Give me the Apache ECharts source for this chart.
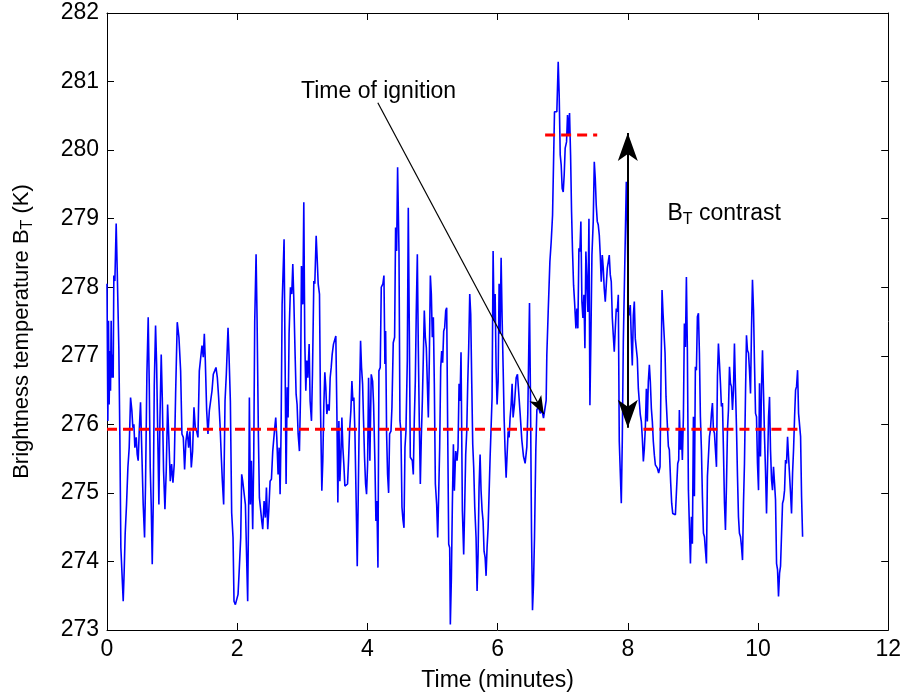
<!DOCTYPE html>
<html>
<head>
<meta charset="utf-8">
<script src="https://cdn.jsdelivr.net/npm/echarts@6/dist/echarts.min.js"></script>
<style>
  html, body { margin: 0; padding: 0; background: #fff; }
  #chart { width: 904px; height: 699px; }
</style>
</head>
<body>
<div id="chart"></div>
<script>
// Sample times (minutes) and brightness temperature (K)
const minutes = [
  0.000,0.013,0.023,0.033,0.044,0.054,0.064,0.074,0.085,0.095,0.105,0.121,0.141,0.156,0.172,0.182,0.197,0.213,0.228,0.249,
  0.264,0.279,0.300,0.321,0.341,0.362,0.382,0.397,0.413,0.428,0.449,0.464,0.479,0.495,0.515,0.536,0.556,0.577,0.592,0.613,
  0.633,0.649,0.664,0.679,0.695,0.710,0.726,0.746,0.762,0.777,0.797,0.813,0.833,0.849,0.869,0.890,0.910,0.931,0.951,0.972,
  0.992,1.013,1.033,1.054,1.079,1.105,1.131,1.151,1.172,1.192,1.213,1.233,1.254,1.274,1.295,1.315,1.336,1.356,1.377,1.397,
  1.418,1.438,1.459,1.479,1.495,1.510,1.531,1.551,1.572,1.592,1.613,1.633,1.654,1.674,1.695,1.715,1.736,1.756,1.772,1.792,
  1.813,1.833,1.859,1.874,1.895,1.915,1.936,1.951,1.972,1.992,2.013,2.033,2.054,2.069,2.085,
  2.110,2.126,2.146,2.161,2.177,2.187,2.203,2.218,2.238,2.254,2.269,2.290,2.305,2.326,2.341,2.356,2.377,2.392,2.413,2.433,
  2.449,2.469,2.485,2.505,2.526,2.546,2.572,2.592,2.608,2.628,2.644,2.659,2.674,2.690,2.705,2.720,2.736,2.751,2.767,2.782,
  2.797,2.818,2.838,2.854,2.869,2.890,2.905,2.920,2.936,2.956,2.972,2.987,3.008,3.023,3.038,3.054,3.069,3.085,3.105,3.120,
  3.141,3.156,3.177,3.192,3.213,3.228,3.244,3.264,3.279,3.300,3.315,3.331,3.346,3.361,3.377,3.397,3.413,3.428,3.444,3.459,
  3.479,3.500,3.515,3.531,3.546,3.562,3.577,3.592,3.608,3.623,3.638,3.654,3.674,3.695,3.710,3.726,3.746,3.762,3.777,3.792,
  3.808,3.828,3.844,3.859,3.879,3.895,3.910,3.926,3.941,3.956,3.972,3.987,4.003,4.018,4.038,4.059,4.080,4.095,4.115,4.131,
  4.146,4.162,4.177,4.197,4.213,4.228,
  4.238,4.254,4.269,4.280,4.295,4.310,4.326,4.341,4.362,4.377,4.397,4.418,4.433,4.449,4.464,4.485,4.500,4.515,4.531,4.546,
  4.562,4.577,4.592,4.613,4.628,4.644,4.659,4.674,4.690,4.705,4.720,4.736,4.751,4.767,4.782,4.797,4.813,4.828,4.844,4.859,
  4.874,4.890,4.905,4.921,4.936,4.951,4.967,4.982,4.997,5.013,5.028,5.044,5.064,5.080,5.095,5.110,5.126,5.141,5.156,5.172,
  5.187,5.203,5.218,5.233,5.249,5.264,5.274,5.290,5.305,5.321,5.336,5.356,5.377,5.392,5.408,5.423,5.438,5.459,5.479,5.495,
  5.510,5.526,5.541,5.556,5.572,5.587,5.603,5.618,5.633,5.649,5.669,5.685,5.700,5.715,5.731,5.746,5.762,5.777,5.792,5.808,
  5.823,5.838,5.854,5.869,5.885,5.900,5.915,5.931,5.946,5.962,5.977,5.992,6.008,6.023,6.038,6.054,6.069,6.085,6.100,6.115,
  6.131,6.146,6.162,6.177,6.192,6.208,6.223,6.238,6.259,6.285,6.305,
  6.346,6.372,6.398,6.423,6.449,6.464,6.480,6.490,6.505,6.521,6.536,6.551,6.567,6.587,6.603,6.628,6.654,6.680,6.705,6.731,6.746,
  6.756,6.777,6.803,6.823,6.844,6.859,6.874,6.895,6.910,6.931,6.946,6.962,6.977,6.992,7.008,7.023,7.038,7.059,7.074,7.090,
  7.105,7.121,7.136,7.151,7.167,7.182,7.203,7.218,7.233,7.249,7.264,7.279,7.295,7.310,7.326,7.341,7.356,7.372,7.387,7.403,
  7.418,7.433,7.449,7.469,7.485,7.500,7.515,7.531,7.546,7.562,7.577,7.592,7.608,7.623,7.638,7.654,7.669,7.685,7.700,7.715,
  7.731,7.746,7.762,7.777,7.792,7.808,7.823,7.838,7.854,7.869,7.885,7.900,7.915,7.931,7.946,7.962,7.977,7.992,8.008,8.023,
  8.038,8.054,8.069,8.085,8.100,8.115,8.131,8.146,8.162,8.177,8.192,8.208,8.223,8.239,8.254,8.269,8.285,8.300,8.315,8.331,
  8.346,8.362,8.377,8.392,8.408,8.423,8.439,8.454,
  8.474,8.495,8.510,8.526,8.541,8.556,8.572,8.587,8.608,8.623,8.638,8.659,8.674,8.690,8.710,8.731,8.751,8.767,8.782,8.792,
  8.808,8.823,8.838,8.854,8.869,8.885,8.900,8.915,8.931,8.946,8.962,8.977,8.992,9.008,9.023,9.038,9.054,9.069,9.085,9.100,
  9.115,9.131,9.146,9.162,9.177,9.192,9.208,9.223,9.238,9.254,9.269,9.285,9.300,9.315,9.331,9.346,9.362,9.377,9.392,9.408,
  9.423,9.438,9.454,9.469,9.485,9.500,9.515,9.531,9.546,9.562,9.577,9.592,9.608,9.623,9.638,9.654,9.669,9.685,9.700,9.715,
  9.731,9.746,9.762,9.777,9.792,9.808,9.823,9.838,9.854,9.869,9.885,9.900,9.915,9.931,9.946,9.962,9.977,9.992,10.008,10.023,
  10.038,10.054,10.069,10.085,10.100,10.115,10.131,10.146,10.162,10.177,10.192,10.208,10.223,10.238,10.254,10.269,10.285,10.300,10.315,10.331,
  10.346,10.362,10.377,10.392,10.408,10.423,10.438,10.454,10.469,10.485,10.500,10.515,10.531,10.546,10.562,10.577,10.592,10.608,10.623,10.638,
  10.654,10.669,10.685
];
const kelvin = [
  278.05,276.05,277.51,276.29,277.07,276.49,277.51,276.68,277.02,276.68,278.17,278.09,278.93,278.29,278.29,277.10,275.86,274.20,274.20,273.42,
  273.86,274.40,274.83,275.37,275.66,276.39,276.20,275.95,276.00,275.66,275.81,275.56,275.47,275.90,276.32,275.56,274.83,274.35,275.13,276.73,
  277.56,276.59,275.37,274.83,273.96,274.83,276.56,277.44,276.88,276.00,274.83,276.05,277.02,276.39,275.32,274.76,275.32,276.29,275.76,275.17,
  275.42,275.15,275.42,276.44,277.49,277.27,276.78,275.86,275.81,275.34,275.76,275.90,275.66,275.90,275.37,275.61,276.25,275.95,275.90,275.81,
  276.78,276.78,277.15,276.98,277.32,276.93,276.20,275.86,276.20,276.20,276.49,276.73,276.78,276.83,276.68,276.39,276.00,275.52,275.17,274.83,
  276.34,276.73,277.41,277.02,276.34,274.71,274.35,273.42,273.37,273.35,273.52,273.91,274.35,275.27,275.17,
  275.15,274.83,274.01,273.42,274.93,276.39,274.83,275.47,274.47,275.52,277.49,278.48,277.56,275.81,274.93,274.79,274.59,274.47,274.88,274.64,
  275.08,274.47,274.74,275.17,275.20,275.61,275.90,276.10,275.81,275.27,275.66,274.98,275.90,277.75,277.75,278.70,276.90,275.13,276.54,276.10,
  277.32,278.00,277.90,278.34,277.85,277.00,276.44,276.29,275.86,275.61,276.39,278.31,277.75,279.24,277.22,276.49,276.93,276.68,277.17,276.34,
  276.05,276.73,278.09,278.05,278.75,278.43,278.05,277.90,276.29,275.03,275.47,276.29,276.76,276.54,276.15,276.29,276.20,276.68,276.83,277.02,
  277.17,277.19,277.29,276.20,274.86,276.05,275.17,275.52,276.10,275.66,275.42,275.10,275.10,275.13,275.47,275.90,276.20,276.63,276.34,276.39,
  275.90,274.83,273.93,274.93,276.39,277.22,276.83,276.59,276.05,275.52,275.13,274.98,275.42,276.68,275.47,276.73,276.63,276.29,275.47,274.59,
  274.88,273.91,276.78,276.83,278.00,278.02,
  278.05,278.17,276.88,277.36,275.86,275.27,275.00,275.86,275.90,276.25,277.19,277.27,278.87,278.53,279.75,278.53,276.05,275.90,274.79,274.61,
  274.49,275.66,275.90,276.93,279.16,277.36,275.52,275.52,275.47,275.27,276.05,276.63,277.66,278.48,277.12,276.05,275.13,275.81,276.34,276.98,
  277.66,277.27,277.12,276.59,276.10,276.93,278.17,277.90,277.27,277.56,276.59,275.13,274.83,274.35,274.98,275.66,276.83,277.07,276.90,277.36,
  277.41,277.66,277.70,275.95,274.25,274.20,273.08,273.76,274.83,275.71,275.03,275.61,275.47,275.66,276.59,276.34,277.05,274.74,274.10,274.83,
  275.56,275.90,276.59,277.12,277.90,277.61,276.59,275.71,275.37,274.79,274.35,273.57,274.10,275.08,275.56,275.03,274.74,274.59,274.15,274.06,
  273.79,274.20,274.49,274.49,275.52,275.95,276.39,278.53,277.51,277.90,276.83,276.29,276.63,278.05,277.32,278.43,277.56,276.83,276.10,275.61,
  275.22,275.56,275.90,275.81,276.10,276.29,276.59,276.10,276.29,276.68,276.73,
  276.16,275.77,275.53,275.43,275.67,276.16,277.18,277.77,276.40,274.41,273.29,273.66,274.36,275.63,276.21,276.26,276.16,276.21,276.09,276.11,276.35,
  277.01,277.64,278.37,278.66,279.05,279.05,280.56,280.54,280.56,281.29,280.80,279.93,279.78,279.44,279.39,279.64,280.03,280.12,280.51,280.22,
  280.54,279.93,279.10,278.52,278.03,277.79,277.40,277.69,277.40,278.57,278.52,278.96,277.79,277.55,277.89,277.11,278.52,278.52,277.64,279.00,
  276.28,277.25,278.47,278.96,279.83,279.59,279.20,278.96,278.91,278.76,278.47,278.08,278.47,278.28,277.98,277.79,278.03,278.28,278.37,278.47,
  278.18,278.08,277.55,277.30,277.06,277.40,277.69,277.64,277.89,275.75,275.75,274.85,275.75,277.20,277.20,278.76,279.54,278.96,277.69,277.59,
  277.74,277.25,276.86,277.59,277.79,277.25,277.25,276.96,276.52,276.33,276.14,276.04,275.80,275.46,275.65,275.94,276.52,276.04,276.62,276.87,
  276.62,276.23,276.04,275.75,275.55,275.41,275.41,275.36,
  275.29,275.38,276.70,277.96,277.62,277.62,277.04,276.40,276.40,275.68,275.63,275.14,274.85,274.70,274.68,274.68,274.70,275.43,275.48,276.21,
  275.63,275.92,275.48,276.11,277.47,277.13,278.15,277.08,275.04,275.04,273.97,274.65,274.26,276.11,274.95,276.84,276.79,277.57,277.62,277.04,
  276.11,275.63,274.95,274.41,274.36,274.36,273.97,275.24,275.24,275.82,275.92,276.16,276.31,275.92,275.87,275.63,275.38,276.70,277.18,276.89,
  276.60,276.26,276.31,275.63,274.85,274.46,275.09,275.92,276.21,276.84,276.60,276.55,276.21,276.50,277.18,276.53,275.97,275.24,274.65,274.41,
  274.36,274.22,274.02,274.85,275.43,276.45,277.30,277.08,277.04,276.79,276.45,277.38,278.11,277.67,276.89,276.16,276.11,275.43,275.04,276.60,
  275.53,276.55,277.08,276.45,275.82,275.33,274.70,275.38,276.11,276.40,275.63,275.19,275.04,275.38,275.14,274.90,273.97,273.88,273.49,273.83,
  273.93,274.41,274.85,274.90,275.04,275.48,275.43,275.82,275.53,275.53,274.99,274.70,275.29,275.63,276.11,276.50,276.55,276.79,276.16,276.16,
  275.82,274.95,274.36
];

// Axis ranges and tick steps
const xRange = [0, 12];
const xStep = 2;
const yRange = [273, 282];
const yStep = 1;

// Background and fire-peak levels (K) with their time spans (minutes)
const backgroundLevel = 275.93;
const backgroundSpans = [[0, 6.73], [8.24, 10.69]];
const peakLevel = 280.22;
const peakSpan = [6.73, 7.53];

// Annotation anchors [minutes, K]
const ignitionText = [2.98, 280.85];
const ignitionArrow = [[4.16, 280.69], [6.71, 276.15]];
const contrastArrow = [[8.0, 280.25], [8.0, 275.95]];
const contrastText = [8.61, 279.08];

const FONT = 'Liberation Sans, Arial, Helvetica, sans-serif';
const chart = echarts.init(document.getElementById('chart'), null, { renderer: 'canvas' });

const series = [];
series.push({
  name: 'BT',
  type: 'line',
  data: minutes.map((t, i) => [t, kelvin[i]]),
  showSymbol: false,
  symbol: 'none',
  lineStyle: { color: '#0000ff', width: 1.6 },
  z: 2,
  animation: false
});

backgroundSpans.concat([peakSpan]).forEach((span, i) => {
  const level = i < backgroundSpans.length ? backgroundLevel : peakLevel;
  series.push({
    type: 'line',
    data: [[span[0], level], [span[1], level]],
    showSymbol: false,
    symbol: 'none',
    lineStyle: { color: '#ff0000', width: 3, type: [10, 6] },
    z: 3,
    animation: false
  });
});

// Arrows: ignition pointer and the two-headed contrast marker
series.push({
  type: 'line',
  data: [],
  z: 4,
  animation: false,
  markLine: {
    silent: true,
    animation: false,
    label: { show: false },
    emphasis: { disabled: true },
    data: [
      [
        { coord: ignitionArrow[0], symbol: 'none', lineStyle: { color: '#000', width: 1.2, type: 'solid' } },
        { coord: ignitionArrow[1], symbol: 'arrow', symbolSize: [10, 18] }
      ],
      [
        { coord: contrastArrow[0], symbol: 'arrow', symbolSize: [15, 28], lineStyle: { color: '#000', width: 2, type: 'solid' } },
        { coord: contrastArrow[1], symbol: 'arrow', symbolSize: [15, 28] }
      ]
    ],
    itemStyle: { color: '#000' }
  }
});

// Text annotations anchored in data space
series.push({
  type: 'scatter',
  symbolSize: 0,
  z: 5,
  animation: false,
  itemStyle: { opacity: 1 },
  data: [
    { value: ignitionText, name: 'ignition' },
    { value: contrastText, name: 'contrast' }
  ],
  label: {
    show: true,
    position: 'right',
    distance: 0,
    color: '#000',
    opacity: 1,
    fontFamily: FONT,
    fontSize: 23,
    formatter: p => p.name === 'ignition' ? 'Time of ignition' : '{b|B}{s|T}{b| contrast}',
    rich: {
      b: { fontSize: 23, fontFamily: FONT, color: '#000', lineHeight: 30, verticalAlign: 'middle' },
      s: { fontSize: 16, fontFamily: FONT, color: '#000', lineHeight: 30, verticalAlign: 'bottom', padding: [0, 0, 1, 0] }
    }
  }
});

const tickStyle = { inside: true, length: 7, lineStyle: { color: '#000', width: 1 } };
const lineStyle = { show: true, onZero: false, lineStyle: { color: '#000', width: 1 } };

chart.setOption({
  backgroundColor: '#fff',
  animation: false,
  grid: { left: 107, right: 15, top: 13, bottom: 69, containLabel: false },
  xAxis: [
    {
      type: 'value', min: xRange[0], max: xRange[1], interval: xStep, position: 'bottom',
      axisLine: lineStyle, axisTick: tickStyle, splitLine: { show: false },
      axisLabel: { color: '#000', fontFamily: FONT, fontSize: 23, margin: 8 },
      name: 'Time (minutes)', nameLocation: 'middle', nameGap: 39,
      nameTextStyle: { color: '#000', fontFamily: FONT, fontSize: 23 }
    },
    {
      type: 'value', min: xRange[0], max: xRange[1], interval: xStep, position: 'top',
      axisLine: lineStyle, axisTick: tickStyle, splitLine: { show: false },
      axisLabel: { show: false }
    }
  ],
  yAxis: [
    {
      type: 'value', min: yRange[0], max: yRange[1], interval: yStep, position: 'left',
      axisLine: lineStyle, axisTick: tickStyle, splitLine: { show: false },
      axisLabel: { color: '#000', fontFamily: FONT, fontSize: 23, margin: 8 },
      name: '{b|Brightness temperature B}{s|T}{b| (K)}', nameLocation: 'middle', nameGap: 70, nameRotate: 90,
      nameTextStyle: {
        color: '#000', fontFamily: FONT, fontSize: 22, padding: [0, 20, 0, 0],
        rich: {
          b: { fontSize: 22, fontFamily: FONT, color: '#000', lineHeight: 30, verticalAlign: 'middle' },
          s: { fontSize: 16, fontFamily: FONT, color: '#000', lineHeight: 30, verticalAlign: 'bottom', padding: [0, 0, 1, 0] }
        }
      }
    },
    {
      type: 'value', min: yRange[0], max: yRange[1], interval: yStep, position: 'right',
      axisLine: lineStyle, axisTick: tickStyle, splitLine: { show: false },
      axisLabel: { show: false }
    }
  ],
  series: series
});
</script>
</body>
</html>
